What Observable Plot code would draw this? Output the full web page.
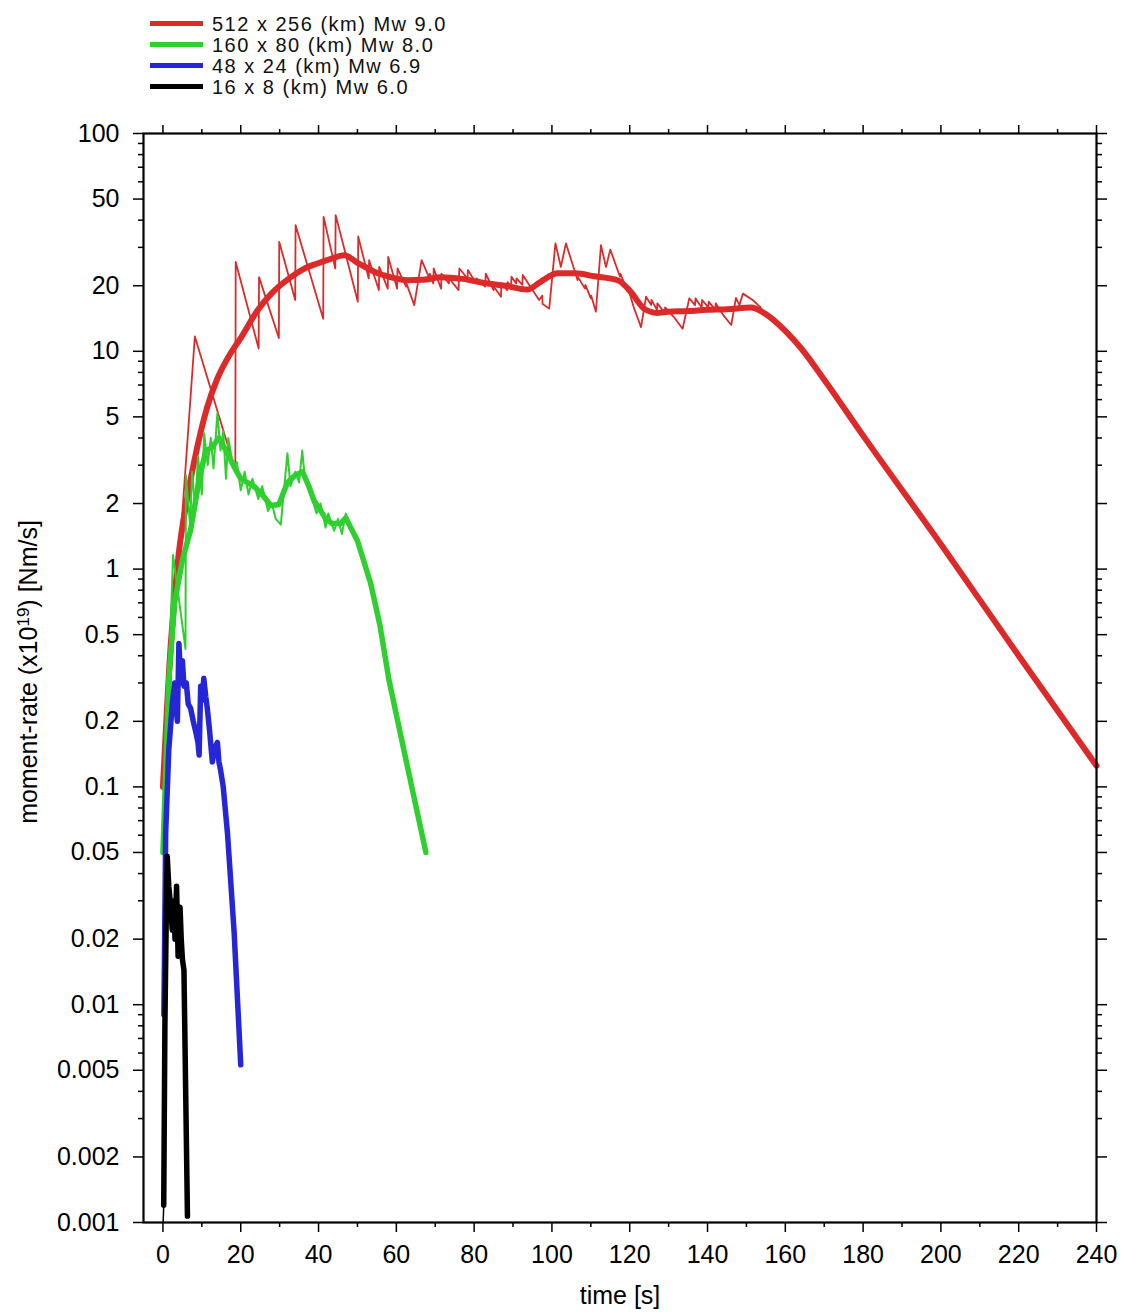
<!DOCTYPE html>
<html><head><meta charset="utf-8">
<script src="https://cdn.jsdelivr.net/npm/d3@7"></script>
<script src="https://cdn.jsdelivr.net/npm/@observablehq/plot@0.6"></script>
<style>
html,body{margin:0;padding:0;background:#fff;overflow:hidden}
#wrap{position:relative;width:1123px;height:1313px;font-family:"Liberation Sans",Arial,Helvetica,sans-serif}
#legend{position:relative;height:100px;width:1123px}
.row{position:absolute;left:150px;height:21px;display:flex;align-items:center;font-size:20px;line-height:20px;letter-spacing:1.5px;color:#111;white-space:nowrap}
.sw{width:53px;height:5px;margin-right:9px}
#chart svg{display:block}
</style></head><body>
<div id="wrap"><div id="legend"></div><div id="chart"></div></div>
<script>
// ---------- data ----------
const seriesNames = ["512 x 256 (km) Mw 9.0", "160 x 80 (km) Mw 8.0", "48 x 24 (km) Mw 6.9", "16 x 8 (km) Mw 6.0"];

const redRawTime = [0, 8.2, 18.6, 18.7, 24.6, 24.7, 29.8, 29.9, 34.0, 34.1, 41.2, 41.3, 44.3, 44.4, 50.1, 50.2, 52.9, 53.0, 55.5, 55.6, 57.8, 57.9, 60.2, 60.3, 62.5, 62.6, 64.6, 66.5, 68.5, 68.6, 69.5, 69.6, 71.5, 71.6, 73.5, 73.6, 76.0, 76.2, 78.3, 78.4, 80.5, 80.6, 82.8, 83.0, 85.0, 85.1, 86.9, 87.0, 88.5, 88.6, 89.5, 89.6, 90.8, 90.9, 92.4, 92.5, 95.0, 96.7, 97.5, 97.6, 99.3, 100.9, 102.3, 103.6, 106.6, 106.7, 108.5, 108.6, 110.0, 110.1, 111.3, 112.6, 113.9, 115.0, 117.5, 117.6, 119.5, 119.6, 121.0, 122.9, 124.2, 125.5, 125.6, 127.0, 127.1, 129.0, 129.1, 131.3, 133.6, 135.3, 136.8, 136.9, 138.5, 138.6, 140.2, 140.3, 142.0, 142.1, 144.0, 146.1, 147.3, 148.2, 149.1, 151.6, 153.5, 155.1, 157.5, 157.6, 160.0, 164.1];
const redRawRate = [0.1, 11.7, 2.85, 25.7, 10.3, 21.9, 11.5, 31.8, 17.2, 37.9, 14.1, 41.4, 24.0, 42.2, 16.9, 33.7, 21.6, 26.2, 19.1, 24.4, 19.4, 27.1, 19.4, 24.0, 19.8, 20.5, 16.3, 26.2, 21.6, 22.7, 20.5, 24.0, 19.4, 22.7, 20.5, 21.6, 19.1, 24.0, 21.6, 23.6, 20.5, 21.6, 19.8, 22.7, 19.1, 19.8, 17.8, 20.5, 19.1, 20.8, 19.8, 22.0, 20.5, 21.6, 20.2, 22.4, 19.1, 17.2, 18.0, 16.5, 15.7, 31.3, 24.4, 31.3, 21.2, 21.9, 19.4, 20.2, 17.5, 18.0, 15.2, 30.7, 24.4, 29.3, 22.0, 22.7, 18.8, 19.4, 16.0, 12.9, 17.8, 16.3, 17.2, 15.5, 16.6, 15.0, 15.9, 14.4, 12.7, 17.5, 16.3, 17.5, 15.9, 17.2, 15.9, 16.9, 15.5, 16.6, 14.7, 13.2, 17.6, 16.3, 18.4, 17.2, 16.0, 14.5, 13.3, 13.6, 12.1, 10.1];

const redSmoothTime = [0, 2, 4, 6.3, 8, 11.4, 14, 17.4, 20, 24.3, 28, 32.9, 36, 39.7, 43, 46.6, 50, 54.3, 58, 62.9, 67, 71.4, 77, 82.6, 88, 93.7, 97, 101.5, 106, 110.9, 116.9, 120, 123.7, 127, 129.8, 135, 140, 145, 151.2, 155.5, 160, 164.1, 170, 180, 200, 220, 240];
const redSmoothRate = [0.1, 0.45, 1.15, 2.15, 3.1, 5.56, 7.5, 9.8, 11.5, 15.4, 18.5, 21.9, 23.8, 25.3, 26.5, 27.6, 25.5, 23.2, 22.0, 21.2, 21.3, 21.9, 21.5, 20.6, 20.0, 19.2, 20.8, 22.8, 22.8, 22.1, 21.2, 19.0, 15.7, 15.0, 15.2, 15.3, 15.5, 15.6, 15.9, 14.6, 12.4, 10.3, 7.4, 4.1, 1.3, 0.4, 0.125];

const greenRawTime = [0, 2.6, 5.8, 5.9, 7.0, 7.5, 8.3, 9.0, 10.0, 10.6, 11.5, 12.3, 13.0, 14.0, 14.8, 15.5, 16.2, 16.8, 18.0, 19.0, 20.0, 21.0, 22.0, 23.0, 24.5, 25.5, 27.0, 28.0, 29.0, 30.3, 31.0, 32.0, 32.8, 34.0, 35.0, 35.8, 36.5, 38.0, 39.5, 40.5, 41.8, 42.5, 44.0, 45.0, 46.0, 47.0, 47.9, 50.0];
const greenRawRate = [0.05, 1.16, 0.43, 2.7, 1.6, 2.8, 1.9, 3.3, 2.2, 4.2, 3.0, 4.0, 2.9, 5.2, 3.5, 4.3, 2.6, 4.0, 3.0, 3.1, 2.3, 2.8, 2.2, 2.6, 2.1, 2.4, 1.85, 2.0, 1.7, 1.6, 2.2, 3.4, 2.4, 2.8, 2.5, 3.5, 2.6, 2.2, 1.8, 2.0, 1.55, 1.8, 1.5, 1.7, 1.45, 1.8, 1.6, 1.35];

const greenSmoothTime = [0, 1.5, 3, 5, 7.1, 9.3, 11, 12.5, 14.4, 16.6, 18.5, 20, 23.4, 25.5, 27.7, 29.8, 32, 34, 35.9, 37.5, 38.8, 41.9, 43.5, 45.7, 47, 47.9, 50, 53.4, 55.8, 58.1, 62.8, 67.6];
const greenSmoothRate = [0.05, 0.31, 0.7, 1.1, 1.51, 2.56, 3.5, 3.6, 4.0, 3.4, 2.9, 2.6, 2.4, 2.2, 1.96, 1.98, 2.5, 2.7, 2.8, 2.4, 2.07, 1.7, 1.62, 1.62, 1.72, 1.6, 1.35, 0.86, 0.55, 0.31, 0.125, 0.05];

const blueTime = [0.25, 0.7, 1.5, 2.4, 3.0, 3.3, 3.7, 4.1, 4.6, 5.0, 5.4, 6.0, 6.5, 7.1, 7.8, 8.4, 9.0, 9.3, 9.7, 10.1, 10.5, 11.0, 11.4, 12.0, 12.7, 13.3, 14.0, 14.4, 14.8, 15.5, 16.6, 18.3, 20.0];
const blueRate = [0.009, 0.061, 0.148, 0.24, 0.3, 0.25, 0.2, 0.455, 0.3, 0.38, 0.29, 0.3, 0.24, 0.23, 0.2, 0.18, 0.16, 0.14, 0.29, 0.25, 0.315, 0.26, 0.23, 0.18, 0.13, 0.15, 0.16, 0.13, 0.12, 0.1, 0.061, 0.0215, 0.0053];

const blackTime = [0.2, 0.5, 0.9, 1.1, 1.5, 2.0, 2.4, 2.8, 3.1, 3.5, 3.9, 4.4, 4.7, 5.0, 5.4, 6.3];
const blackRate = [0.0012, 0.008, 0.03, 0.048, 0.035, 0.028, 0.022, 0.03, 0.02, 0.035, 0.0167, 0.028, 0.02, 0.0162, 0.0144, 0.00107];
const blackRawTime = [0.05, 0.2];
const blackRawRate = [0.001, 0.0012];

const xTickValues = [0, 20, 40, 60, 80, 100, 120, 140, 160, 180, 200, 220, 240];
const xMinorTicks = [10, 30, 50, 70, 90, 110, 130, 150, 170, 190, 210, 230];
const yTickValues = [0.001, 0.002, 0.005, 0.01, 0.02, 0.05, 0.1, 0.2, 0.5, 1, 2, 5, 10, 20, 50, 100];
const yTickLabels = ["0.001", "0.002", "0.005", "0.01", "0.02", "0.05", "0.1", "0.2", "0.5", "1", "2", "5", "10", "20", "50", "100"];
const yMinorMultipliers = [3, 4, 6, 7, 8, 9];
const yDecades = [0.001, 0.01, 0.1, 1, 10];
const xLabel = "time [s]";
const yLabel = "moment-rate (x10\u00B9\u2079) [Nm/s]";

// ---------- styles ----------
const colors = ["#dc2a2a", "#2ecf2e", "#2626d6", "#000000"];
const FONT = "'Liberation Sans', Arial, Helvetica, sans-serif";

const zip = (t, v) => t.map((d, i) => ({t: d, v: v[i]}));
const yMinorTicks = yDecades.flatMap(d => yMinorMultipliers.map(k => +(k * d).toPrecision(3)));

// legend
const legend = document.getElementById("legend");
seriesNames.forEach((name, i) => {
  const row = document.createElement("div");
  row.className = "row";
  row.style.top = (13 + i * 21) + "px";
  const sw = document.createElement("div");
  sw.className = "sw";
  sw.style.background = colors[i];
  const tx = document.createElement("span");
  tx.textContent = name;
  row.appendChild(sw); row.appendChild(tx);
  legend.appendChild(row);
});

const axisCommon = {strokeWidth: 1.5, fontSize: 25, fontFamily: FONT, label: null};
const chart = Plot.plot({
  width: 1123, height: 1213,
  marginTop: 33, marginBottom: 91, marginLeft: 143, marginRight: 27,
  x: {domain: [-5, 240]},
  y: {type: "log", domain: [0.001, 100]},
  style: {fontFamily: FONT, fontSize: "25px", color: "#000", background: "#fff", overflow: "visible"},
  marks: [
    Plot.line(zip(redRawTime, redRawRate), {x: "t", y: "v", stroke: colors[0], strokeWidth: 1.8}),
    Plot.line(zip(redSmoothTime, redSmoothRate), {x: "t", y: "v", stroke: colors[0], strokeWidth: 6, curve: "monotone-x"}),
    Plot.line(zip(greenRawTime, greenRawRate), {x: "t", y: "v", stroke: colors[1], strokeWidth: 2}),
    Plot.line(zip(greenSmoothTime, greenSmoothRate), {x: "t", y: "v", stroke: colors[1], strokeWidth: 5.5}),
    Plot.line(zip(blueTime, blueRate), {x: "t", y: "v", stroke: colors[2], strokeWidth: 5.5}),
    Plot.line(zip(blackRawTime, blackRawRate), {x: "t", y: "v", stroke: colors[3], strokeWidth: 1.5}),
    Plot.line(zip(blackTime, blackRate), {x: "t", y: "v", stroke: colors[3], strokeWidth: 5.5}),
    Plot.axisX({...axisCommon, anchor: "bottom", ticks: xTickValues, tickSize: 10, tickPadding: 13, tickFormat: d => String(d)}),
    Plot.axisX({...axisCommon, anchor: "bottom", ticks: xMinorTicks, tickSize: 5, fill: "none"}),
    Plot.axisX({...axisCommon, anchor: "top", ticks: xTickValues, tickSize: 9, fill: "none"}),
    Plot.axisX({...axisCommon, anchor: "top", ticks: xMinorTicks, tickSize: 5, fill: "none"}),
    Plot.axisY({...axisCommon, anchor: "left", ticks: yTickValues, tickSize: 10, fill: "none"}),
    Plot.axisY({...axisCommon, anchor: "left", ticks: yMinorTicks, tickSize: 5, fill: "none"}),
    Plot.axisY({...axisCommon, anchor: "right", ticks: yTickValues, tickSize: 10, fill: "none"}),
    Plot.axisY({...axisCommon, anchor: "right", ticks: yMinorTicks, tickSize: 5, fill: "none"}),
    Plot.text(yTickValues, {y: d => d, text: (d, i) => yTickLabels[i], frameAnchor: "left", dx: -24, textAnchor: "end", lineAnchor: "middle", fontSize: 25, fontFamily: FONT, fill: "#000"}),
    Plot.frame({stroke: "#000", strokeWidth: 2.2}),
    Plot.text([xLabel], {text: d => d, frameAnchor: "bottom", dy: 73, fontSize: 25, fontFamily: FONT, textAnchor: "middle", lineAnchor: "middle", fill: "#000"}),
    Plot.text([yLabel], {text: d => d, frameAnchor: "left", rotate: -90, dx: -115, dy: -6, fontSize: 25, fontFamily: FONT, textAnchor: "middle", lineAnchor: "middle", fill: "#000"})
  ]
});

// render the exponent of the y label as a real superscript
const lab = Array.from(chart.querySelectorAll("text")).find(t => t.textContent === yLabel);
if (lab) {
  const ns = "http://www.w3.org/2000/svg";
  lab.textContent = "";
  const a = document.createElementNS(ns, "tspan"); a.textContent = "moment-rate (x10";
  const b = document.createElementNS(ns, "tspan"); b.textContent = "19"; b.setAttribute("font-size", "17"); b.setAttribute("dy", "-8");
  const c = document.createElementNS(ns, "tspan"); c.textContent = ") [Nm/s]"; c.setAttribute("dy", "8");
  lab.appendChild(a); lab.appendChild(b); lab.appendChild(c);
}
document.getElementById("chart").appendChild(chart);
</script></body></html>
